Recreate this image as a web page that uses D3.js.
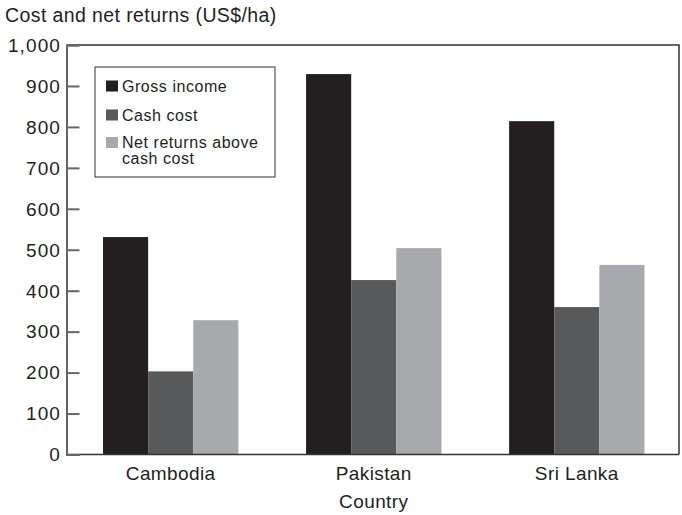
<!DOCTYPE html>
<html>
<head>
<meta charset="utf-8">
<script src="https://cdn.jsdelivr.net/npm/d3@7"></script>
<style>
  html, body { margin: 0; padding: 0; background: #fff; }
  svg text { font-family: "Liberation Sans", Arial, sans-serif; fill: #231f20; }
</style>
</head>
<body>
<svg id="chart" width="682" height="515"></svg>
<script>
// Per-hectare cost and returns by country
const countries = ["Cambodia", "Pakistan", "Sri Lanka"];
const seriesNames = ["Gross income", "Cash cost", "Net returns above cash cost"];
const grossIncome = [531, 929, 814];
const cashCost = [203, 426, 360];
const netReturns = [328, 504, 463];
const yTicks = [0, 100, 200, 300, 400, 500, 600, 700, 800, 900, 1000];
const colors = ["#231f20", "#58595b", "#a7a9ac"];

const seriesValues = [grossIncome, cashCost, netReturns];

const svg = d3.select("#chart");
const plotLeft = 66.5, plotRight = 679, plotTop = 45, plotBottom = 454.5;

const y = d3.scaleLinear().domain([0, 1000]).range([plotBottom, plotTop]);
const x0 = d3.scaleBand().domain(countries).range([plotLeft + 2, plotRight]).paddingInner(1 / 3).paddingOuter(0.17);
const x1 = d3.scaleBand().domain(d3.range(seriesNames.length)).range([0, x0.bandwidth()]);

// bars
const groups = svg.append("g").selectAll("g")
  .data(countries)
  .join("g")
  .attr("transform", d => `translate(${x0(d)},0)`);

groups.selectAll("rect")
  .data((c, i) => seriesValues.map((vals, s) => ({ s, v: vals[i] })))
  .join("rect")
  .attr("x", d => x1(d.s))
  .attr("width", x1.bandwidth())
  .attr("y", d => y(d.v))
  .attr("height", d => plotBottom - y(d.v))
  .attr("fill", d => colors[d.s]);

// frame: top and right edges
svg.append("path")
  .attr("d", `M${plotLeft},${plotTop}H${plotRight}V${plotBottom}`)
  .attr("fill", "none")
  .attr("stroke", "#333")
  .attr("stroke-width", 1.5);

// baseline
svg.append("line")
  .attr("x1", plotLeft).attr("x2", plotRight)
  .attr("y1", plotBottom).attr("y2", plotBottom)
  .attr("stroke", "#333").attr("stroke-width", 1.5);

// y axis with inward ticks
const yAxis = d3.axisRight(y)
  .tickValues(yTicks)
  .tickSize(13)
  .tickFormat("");
const yAxisG = svg.append("g")
  .attr("transform", `translate(${plotLeft},0)`)
  .call(yAxis);
yAxisG.select(".domain").attr("stroke", "#666").attr("stroke-width", 2);
yAxisG.selectAll(".tick line").attr("stroke", "#666").attr("stroke-width", 2);

// tick labels
svg.append("g").selectAll("text")
  .data(yTicks)
  .join("text")
  .attr("x", 61)
  .attr("y", d => y(d))
  .attr("dy", "0.36em")
  .attr("text-anchor", "end")
  .attr("font-size", 19)
  .attr("letter-spacing", 1.1)
  .text(d => d3.format(",")(d));

// category labels
svg.append("g").selectAll("text")
  .data(countries)
  .join("text")
  .attr("x", d => x0(d) + x0.bandwidth() / 2)
  .attr("y", 480)
  .attr("text-anchor", "middle")
  .attr("font-size", 19)
  .attr("letter-spacing", 0.4)
  .text(d => d);

// axis titles
svg.append("text")
  .attr("x", 5).attr("y", 22)
  .attr("font-size", 19.5)
  .attr("letter-spacing", 0.4)
  .text("Cost and net returns (US$/ha)");

svg.append("text")
  .attr("x", x0("Pakistan") + x0.bandwidth() / 2).attr("y", 508)
  .attr("text-anchor", "middle")
  .attr("font-size", 19)
  .attr("letter-spacing", 0.4)
  .text("Country");

// legend
const legend = svg.append("g");
legend.append("rect")
  .attr("x", 95).attr("y", 67)
  .attr("width", 180).attr("height", 110)
  .attr("fill", "#fff")
  .attr("stroke", "#333").attr("stroke-width", 1);

// long names wrap onto a second line
const legendLines = seriesNames.map(n => n === "Net returns above cash cost"
  ? ["Net returns above", "cash cost"] : [n]);
const swatchY = [80.5, 109.5, 137];
const textY = [91.5, 120.5, 148];

seriesNames.forEach((name, i) => {
  legend.append("rect")
    .attr("x", 106).attr("y", swatchY[i])
    .attr("width", 12).attr("height", 11)
    .attr("fill", colors[i]);
  const t = legend.append("text")
    .attr("x", 122).attr("y", textY[i])
    .attr("font-size", 16)
    .attr("letter-spacing", 0.55);
  legendLines[i].forEach((ln, k) => {
    t.append("tspan").attr("x", 122).attr("dy", k === 0 ? 0 : 15.5).text(ln);
  });
});
</script>
</body>
</html>
